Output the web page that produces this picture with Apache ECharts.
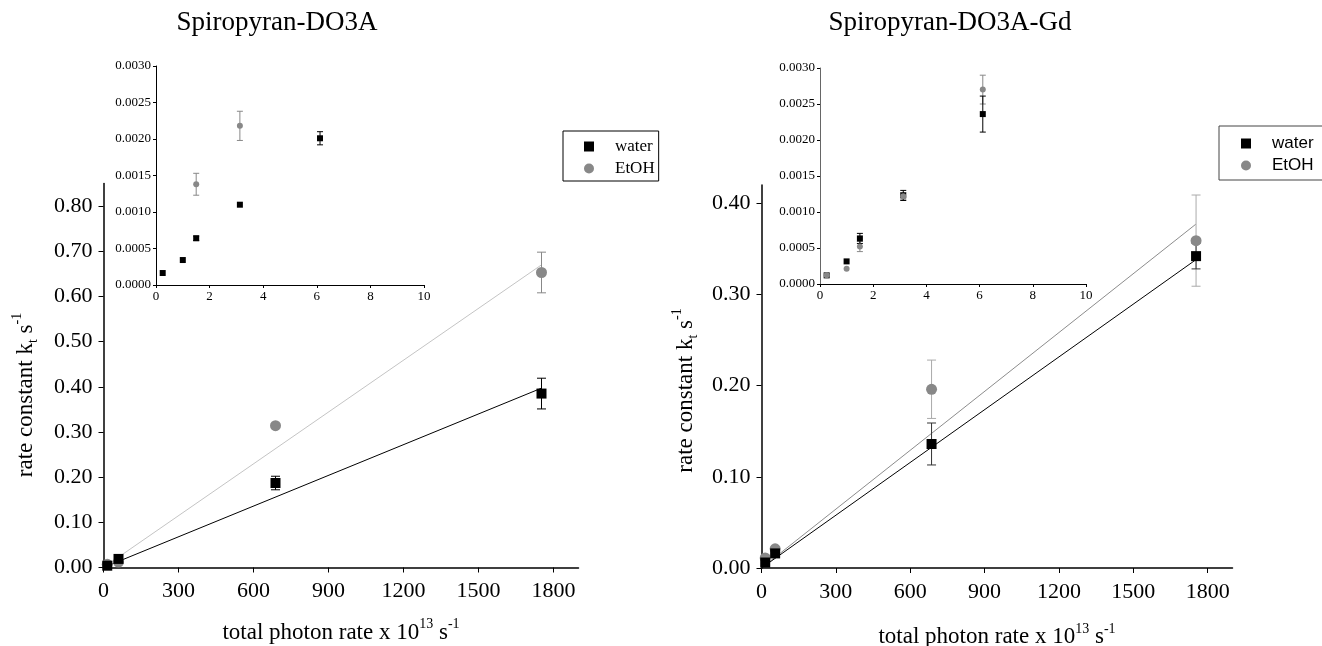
<!DOCTYPE html>
<html>
<head>
<meta charset="utf-8">
<script src="https://cdn.jsdelivr.net/npm/echarts@6/dist/echarts.min.js"></script>
<style>
  html, body { margin: 0; padding: 0; background: #fff; }
  #main { width: 1322px; height: 646px; }
</style>
</head>
<body>
<div id="main"></div>
<script>
// photon rate (x 10^13 s^-1), main panels
var leftX = [15, 60, 688, 1752];
var rightX = [15, 55, 686, 1753];
// Spiropyran-DO3A
var leftWaterY = [0.004, 0.019, 0.187, 0.385];
var leftWaterErr = [0, 0, 0.015, 0.034];
var leftEtohY = [0.007, 0.012, 0.314, 0.653];
var leftEtohErr = [0, 0, 0, 0.045];
// Spiropyran-DO3A-Gd
var rightWaterY = [0.006, 0.016, 0.136, 0.342];
var rightWaterErr = [0, 0, 0.023, 0.014];
var rightEtohY = [0.011, 0.021, 0.196, 0.359];
var rightEtohErr = [0, 0, 0.032, 0.05];

// linear fits (two ends)
var fitX = [0, 1752];
var leftWaterFit = [0, 0.397];
var leftEtohFit = [0, 0.670];
var rightWaterFit = [0, 0.338];
var rightEtohFit = [0, 0.377];

// insets
var insetX = [0.25, 1.0, 1.5, 3.13, 6.12];
var leftInWaterY = [0.000164, 0.000342, 0.00064, 0.0011, 0.00201];
var leftInWaterErr = [0, 0, 0.00003, 0, 0.00009];
var leftInEtohY = [null, null, 0.00138, 0.00218, null];
var leftInEtohErr = [0, 0, 0.00015, 0.0002, 0];
var rightInWaterY = [0.00012, 0.000314, 0.000633, 0.00123, 0.00236];
var rightInWaterErr = [0, 0, 0.00007, 0.00007, 0.00025];
var rightInEtohY = [0.00012, 0.000213, 0.00052, 0.00122, 0.0027];
var rightInEtohErr = [0, 0, 0.00007, 0.00005, 0.0002];

// tick labels
var mainXTicks = [0, 300, 600, 900, 1200, 1500, 1800];
var leftYTicks = [0, 0.1, 0.2, 0.3, 0.4, 0.5, 0.6, 0.7, 0.8];
var rightYTicks = [0, 0.1, 0.2, 0.3, 0.4];

var SERIF = 'Liberation Serif';
var GRAY = '#888888';

function pts(xs, ys) {
    var out = [];
    for (var i = 0; i < xs.length; i++) {
        if (ys[i] != null) out.push([xs[i], ys[i]]);
    }
    return out;
}
function errPts(xs, ys, es) {
    var out = [];
    for (var i = 0; i < xs.length; i++) {
        if (ys[i] != null && es[i] > 0) out.push([xs[i], ys[i], es[i]]);
    }
    return out;
}
function errRender(cap, color) {
    return function (params, api) {
        var x = api.value(0), y = api.value(1), e = api.value(2);
        var t = api.coord([x, y + e]);
        var b = api.coord([x, y - e]);
        var st = { stroke: color, lineWidth: 1 };
        return {
            type: 'group',
            children: [
                { type: 'line', shape: { x1: t[0], y1: t[1], x2: b[0], y2: b[1] }, style: st },
                { type: 'line', shape: { x1: t[0] - cap, y1: t[1], x2: t[0] + cap, y2: t[1] }, style: st },
                { type: 'line', shape: { x1: b[0] - cap, y1: b[1], x2: b[0] + cap, y2: b[1] }, style: st }
            ]
        };
    };
}

var nameRich = {
    sub: { fontFamily: SERIF, fontSize: 14, verticalAlign: 'bottom', color: '#000' },
    sup: { fontFamily: SERIF, fontSize: 14, verticalAlign: 'top', color: '#000' }
};

function mainXAxis(grid, gap) {
    return {
        type: 'value', gridIndex: grid, min: 0, max: 1900,
        name: 'total photon rate x 10{sup|13} s{sup|-1}',
        nameLocation: 'middle', nameGap: gap,
        nameTextStyle: { fontFamily: SERIF, fontSize: 23, color: '#000', lineHeight: 30, rich: nameRich },
        splitLine: { show: false },
        axisLine: { onZero: false, lineStyle: { color: '#000', width: 1.5 } },
        axisTick: { customValues: mainXTicks, length: 5, lineStyle: { color: '#000' } },
        axisLabel: {
            customValues: mainXTicks, fontFamily: SERIF, fontSize: 22, color: '#000', margin: 13,
            formatter: function (v) { return String(v); }
        }
    };
}
function mainYAxis(grid, max, ticks, gap, shift) {
    return {
        type: 'value', gridIndex: grid, min: 0, max: max,
        name: 'rate constant k{sub|t} s{sup|-1}',
        nameLocation: 'middle', nameGap: gap, nameRotate: 90,
        nameTextStyle: { fontFamily: SERIF, fontSize: 23, color: '#000', lineHeight: 30, rich: nameRich, padding: [0, shift, 0, 0] },
        splitLine: { show: false },
        axisLine: { onZero: false, lineStyle: { color: '#000', width: 1.5 } },
        axisTick: { customValues: ticks, length: 5, lineStyle: { color: '#000' } },
        axisLabel: {
            customValues: ticks, fontFamily: SERIF, fontSize: 22, color: '#000', margin: 11,
            formatter: function (v) { return v.toFixed(2); }
        }
    };
}
function insetXAxis(grid) {
    return {
        type: 'value', gridIndex: grid, min: 0, max: 10, interval: 2,
        splitLine: { show: false },
        axisLine: { onZero: false, lineStyle: { color: '#000', width: 1 } },
        axisTick: { length: 3, lineStyle: { color: '#000' } },
        axisLabel: { fontFamily: SERIF, fontSize: 13, color: '#000', margin: 5 }
    };
}
function insetYAxis(grid, lineColor) {
    return {
        type: 'value', gridIndex: grid, min: 0, max: 0.003, interval: 0.0005,
        splitLine: { show: false },
        axisLine: { onZero: false, lineStyle: { color: lineColor, width: 1 } },
        axisTick: { length: 3, lineStyle: { color: '#000' } },
        axisLabel: {
            fontFamily: SERIF, fontSize: 13, color: '#000', margin: 5,
            formatter: function (v) { return v.toFixed(4); }
        }
    };
}

function scatter(name, idx, data, symbol, size, color) {
    return {
        name: name, type: 'scatter', xAxisIndex: idx, yAxisIndex: idx,
        data: data, symbol: symbol, symbolSize: size,
        itemStyle: { color: color, opacity: 1 }, z: 5
    };
}
function fit(idx, ys, color) {
    return {
        name: 'fit', type: 'line', xAxisIndex: idx, yAxisIndex: idx,
        data: pts(fitX, ys), showSymbol: false, silent: true,
        lineStyle: { color: color, width: 1 }, z: 3
    };
}
function errs(idx, data, cap, color) {
    return {
        name: 'err', type: 'custom', xAxisIndex: idx, yAxisIndex: idx,
        data: data, renderItem: errRender(cap, color), silent: true, z: 4
    };
}

var chart = echarts.init(document.getElementById('main'), null, { renderer: 'canvas' });

var option = {
    animation: false,
    backgroundColor: '#fff',
    title: [
        { text: 'Spiropyran-DO3A', left: 272, top: 4, textAlign: 'center',
          textStyle: { fontFamily: SERIF, fontSize: 27, fontWeight: 'normal', color: '#000' } },
        { text: 'Spiropyran-DO3A-Gd', left: 945, top: 4, textAlign: 'center',
          textStyle: { fontFamily: SERIF, fontSize: 27, fontWeight: 'normal', color: '#000' } }
    ],
    legend: [
        {
            left: 563, top: 131, orient: 'vertical',
            data: [{ name: 'water', icon: 'rect' }, { name: 'EtOH', icon: 'circle' }],
            itemWidth: 10, itemHeight: 10, itemGap: 5,
            padding: [7, 4, 4, 21],
            borderColor: '#000', borderWidth: 1,
            textStyle: { fontFamily: SERIF, fontSize: 17, color: '#000', padding: [0, 0, 0, 16] }
        },
        {
            left: 1219, top: 126, orient: 'vertical',
            data: [{ name: 'water', icon: 'rect' }, { name: 'EtOH', icon: 'circle' }],
            itemWidth: 10, itemHeight: 10, itemGap: 5,
            padding: [9, 20, 6, 22],
            borderColor: '#444', borderWidth: 1,
            textStyle: { fontFamily: 'Liberation Sans', fontSize: 17, color: '#000', padding: [0, 0, 0, 16] }
        }
    ],
    grid: [
        { left: 103.5, top: 183.5, width: 475, height: 384, outerBoundsMode: 'none' },
        { left: 156, top: 66, width: 268, height: 219, outerBoundsMode: 'none' },
        { left: 761.5, top: 185, width: 471, height: 383, outerBoundsMode: 'none' },
        { left: 820, top: 68, width: 266, height: 216, outerBoundsMode: 'none' }
    ],
    xAxis: [mainXAxis(0, 50), insetXAxis(1), mainXAxis(2, 54), insetXAxis(3)],
    yAxis: [
        mainYAxis(0, 0.85, leftYTicks, 63, 39),
        insetYAxis(1, '#000'),
        mainYAxis(2, 0.42, rightYTicks, 61, 28),
        insetYAxis(3, '#666')
    ],
    series: [
        // left main
        fit(0, leftEtohFit, '#c4c4c4'),
        fit(0, leftWaterFit, '#000'),
        errs(0, errPts(leftX, leftWaterY, leftWaterErr), 4.5, '#000'),
        errs(0, errPts(leftX, leftEtohY, leftEtohErr), 4.5, GRAY),
        scatter('EtOH', 0, pts(leftX, leftEtohY), 'circle', 11, GRAY),
        scatter('water', 0, pts(leftX, leftWaterY), 'rect', 10, '#000'),
        // left inset
        errs(1, errPts(insetX, leftInWaterY, leftInWaterErr), 3, '#000'),
        errs(1, errPts(insetX, leftInEtohY, leftInEtohErr), 3, GRAY),
        scatter('water', 1, pts(insetX, leftInWaterY), 'rect', 6, '#000'),
        scatter('EtOH', 1, pts(insetX, leftInEtohY), 'circle', 6, GRAY),
        // right main
        fit(2, rightEtohFit, '#8c8c8c'),
        fit(2, rightWaterFit, '#000'),
        errs(2, errPts(rightX, rightEtohY, rightEtohErr), 4.5, '#aaaaaa'),
        errs(2, errPts(rightX, rightWaterY, rightWaterErr), 4.5, '#333'),
        scatter('EtOH', 2, pts(rightX, rightEtohY), 'circle', 11, GRAY),
        scatter('water', 2, pts(rightX, rightWaterY), 'rect', 10, '#000'),
        // right inset
        errs(3, errPts(insetX, rightInEtohY, rightInEtohErr), 3, GRAY),
        errs(3, errPts(insetX, rightInWaterY, rightInWaterErr), 3, '#000'),
        scatter('water', 3, pts(insetX, rightInWaterY), 'rect', 6, '#000'),
        scatter('EtOH', 3, pts(insetX, rightInEtohY), 'circle', 6, GRAY)
    ]
};

chart.setOption(option);
</script>
</body>
</html>
